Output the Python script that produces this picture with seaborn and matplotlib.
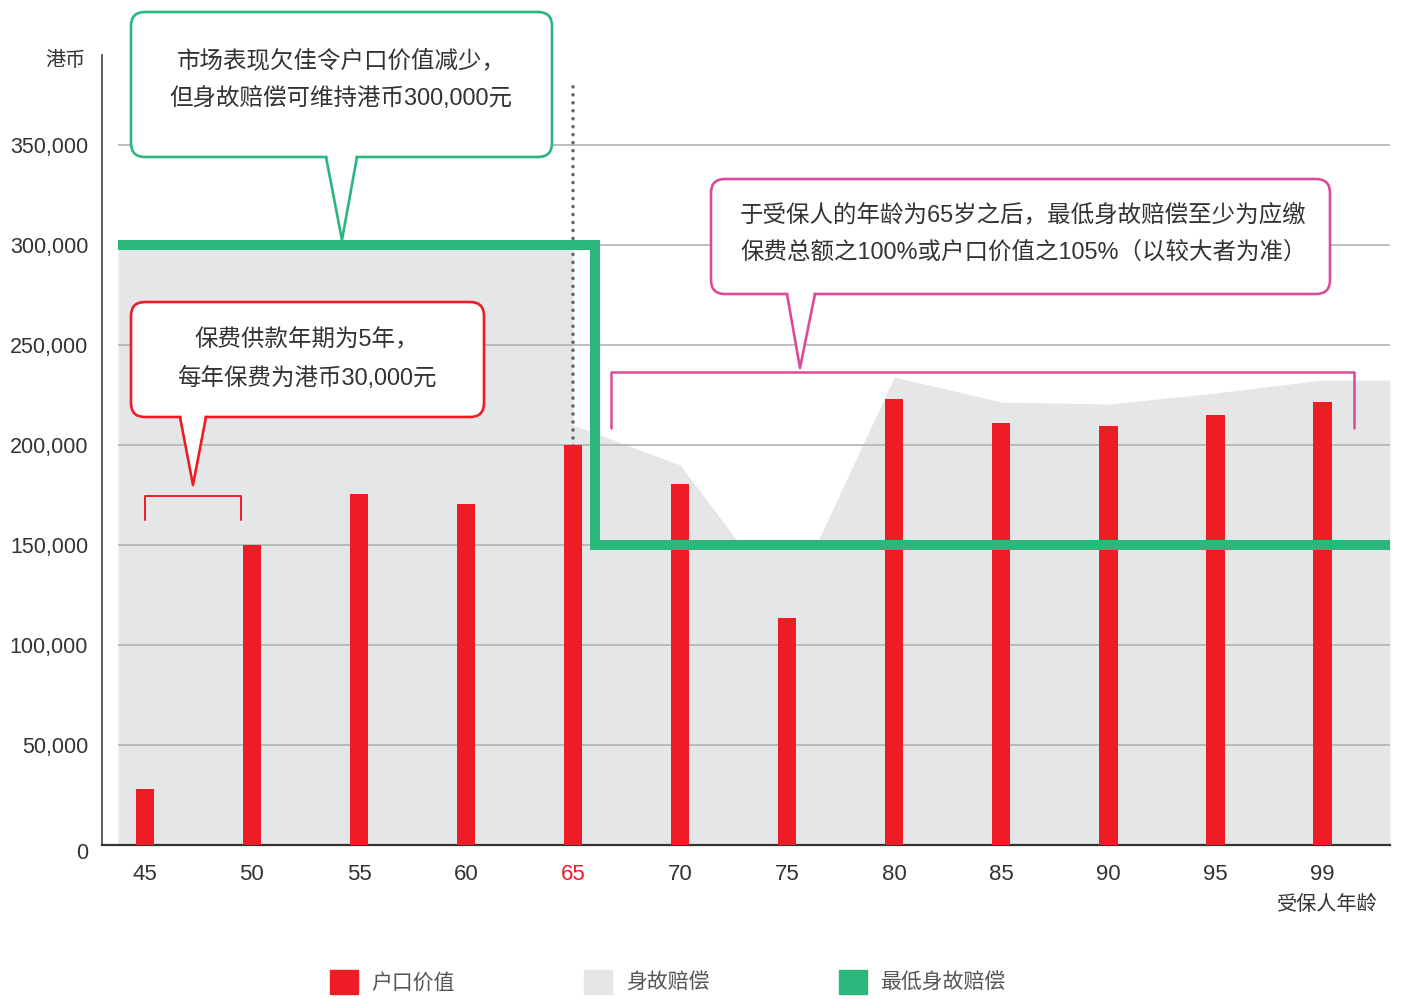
"""
Account value vs death benefit chart (HKD), by insured age.
"""
import numpy as np
import pandas as pd
import matplotlib
matplotlib.use('Agg')
import matplotlib.pyplot as plt
import matplotlib.transforms as mtransforms
from matplotlib.patches import FancyBboxPatch, Polygon, Patch
from matplotlib.lines import Line2D
import seaborn as sns

# ============================================================
# Data
# ============================================================
ages = ['45', '50', '55', '60', '65', '70', '75', '80', '85', '90', '95', '99']
account_value = [28000, 150000, 175500, 170500, 200000, 180500,
                 113500, 223000, 211000, 209500, 215000, 221500]
# death benefit before the 65 step (guaranteed) and after it
death_benefit = [300000, 300000, 300000, 300000, 210000, 190000,
                 119000, 234000, 221500, 220500, 226000, 232500]
min_death_benefit = [300000, 300000, 300000, 300000, 150000, 150000,
                     150000, 150000, 150000, 150000, 150000, 150000]
step_age = '65'
y_ticks = [0, 50000, 100000, 150000, 200000, 250000, 300000, 350000]

legend_labels = ['户口价值', '身故赔偿', '最低身故赔偿']
note_green = ['市场表现欠佳令户口价值减少，', '但身故赔偿可维持港币300,000元']
note_red = ['保费供款年期为5年，', '每年保费为港币30,000元']
note_pink = ['于受保人的年龄为65岁之后，最低身故赔偿至少为应缴',
             '保费总额之100%或户口价值之105%（以较大者为准）']

RED = '#ee1c25'
GREY = '#e5e6e8'
GREEN = '#2bb67c'
PINK = '#db4b9c'
TEXT = '#333333'

# ============================================================
# Style
# ============================================================
sns.set_theme(style='white')
plt.rcParams['font.family'] = ['Liberation Sans', 'Noto Sans CJK SC', 'DejaVu Sans']

W, H = 1403, 999
fig = plt.figure(figsize=(W / 100, H / 100), dpi=100)
ax = fig.add_axes([102 / W, 1 - 845 / H, (1390 - 102) / W, (845 - 55) / H])
# pixel coords measured from the top-left corner, for annotations
px = mtransforms.Affine2D().scale(1 / W, -1 / H).translate(0, 1) + fig.transFigure

x_left, x_right = -0.25, 11.63
pos = np.arange(len(ages))
k = ages.index(step_age)

# ============================================================
# Death benefit area (grey) + floor from min death benefit
# ============================================================
fill_x = np.r_[x_left, pos[:k], k, pos[k:], x_right]
fill_y = np.r_[death_benefit[0], death_benefit[:k], death_benefit[k - 1],
               death_benefit[k:], death_benefit[-1]]
ax.fill_between(fill_x, 0, fill_y, color=GREY, lw=0, zorder=1)
ax.fill_between([k, x_right], 0, min_death_benefit[-1], color=GREY, lw=0, zorder=1)

# gridlines
ax.hlines(y_ticks[1:], x_left, x_right, colors='#b3b3b3', lw=1.2, zorder=2)

# dotted marker at age 65
ax.plot([k, k], [0, 380000], color='#666666', lw=2.6,
        ls=(0, (0.01, 2.2)), dash_capstyle='round', zorder=2.5)

# ============================================================
# Account value bars
# ============================================================
df = pd.DataFrame({'age': ages, 'value': account_value})
sns.barplot(data=df, x='age', y='value', order=ages, color=RED, saturation=1,
            width=0.17, linewidth=0, edgecolor=RED, ax=ax, zorder=3)

# minimum death benefit (green step)
step_x = k + 0.2
ax.plot([x_left, step_x, step_x, x_right],
        [min_death_benefit[0], min_death_benefit[0],
         min_death_benefit[-1], min_death_benefit[-1]],
        color=GREEN, lw=7.2, solid_joinstyle='miter', solid_capstyle='butt', zorder=4)

# ============================================================
# Axes
# ============================================================
ax.set_xlim(-0.40, x_right)
ax.set_ylim(0, 395000)
ax.set_yticks(y_ticks)
ax.set_yticklabels([f'{v:,}' for v in y_ticks])
ax.set_xlabel('')
ax.set_ylabel('')
ax.tick_params(axis='y', length=0, pad=10, labelsize=15.5, labelcolor=TEXT)
ax.tick_params(axis='x', length=0, pad=14, labelsize=16, labelcolor=TEXT)
for lbl in ax.get_xticklabels():
    if lbl.get_text() == step_age:
        lbl.set_color(RED)
# the "0" label sits a little below the baseline in the reference
zero_lbl = ax.get_yticklabels()[0]
zero_lbl.set_transform(zero_lbl.get_transform()
                       + mtransforms.ScaledTranslation(0, -6 / 100, fig.dpi_scale_trans))
for side in ['top', 'right']:
    ax.spines[side].set_visible(False)
ax.spines['left'].set_color('#555555')
ax.spines['left'].set_linewidth(1.3)
ax.spines['bottom'].set_color('#333333')
ax.spines['bottom'].set_linewidth(1.6)

fig.text(65, 60, '港币', transform=px, ha='center', va='center', fontsize=14.5, color=TEXT)
fig.text(1327, 904, '受保人年龄', transform=px, ha='center', va='center',
         fontsize=14.5, color=TEXT)


# ============================================================
# Callouts
# ============================================================
def callout(box, tail, color, lines, text_x, text_y, ha='center'):
    x0, y0, x1, y1 = box
    b0, b1, tip = tail
    fig.add_artist(FancyBboxPatch((x0, y0), x1 - x0, y1 - y0,
                                  boxstyle='round,pad=0,rounding_size=14',
                                  transform=px, fc='white', ec=color, lw=1.9, zorder=5))
    fig.add_artist(Polygon([(b0 + 1, y1 - 3), (b1 - 1, y1 - 3), tip], closed=True,
                           transform=px, fc='white', ec='none', zorder=6))
    fig.add_artist(Line2D([b0, tip[0], b1], [y1, tip[1], y1], transform=px,
                          color=color, lw=1.9, zorder=6))
    for line, ty in zip(lines, text_y):
        fig.text(text_x, ty, line, transform=px, ha=ha, va='center',
                 fontsize=16.9, color=TEXT, zorder=7)


callout((131, 12, 552, 157), (326, 357, (342, 240)), GREEN, note_green, 341, [62, 99])
callout((131, 302, 484, 417), (180, 206, (193, 485)), RED, note_red, 307, [340, 378])
callout((711, 179, 1330, 294), (787, 815, (800, 368)), PINK, note_pink, 740, [215, 252], ha='left')

# brackets
ax.plot([0, 0, 0.9, 0.9], [162500, 174500, 174500, 162500], color=RED, lw=1.4, zorder=5)
ax.plot([4.35, 4.35, 11.29, 11.29], [208500, 236500, 236500, 208500], color=PINK, lw=1.8, zorder=5)

# ============================================================
# Legend
# ============================================================
handles = [Patch(color=c) for c in [RED, GREY, GREEN]]
fig.legend(handles, legend_labels, ncol=3, loc='center', bbox_to_anchor=(0.476, 0.017),
           frameon=False, handlelength=1.35, handleheight=1.35, handletextpad=0.65,
           columnspacing=6.2, fontsize=15, labelcolor='#555555')

fig.savefig('out.png', dpi=100)
plt.close(fig)
